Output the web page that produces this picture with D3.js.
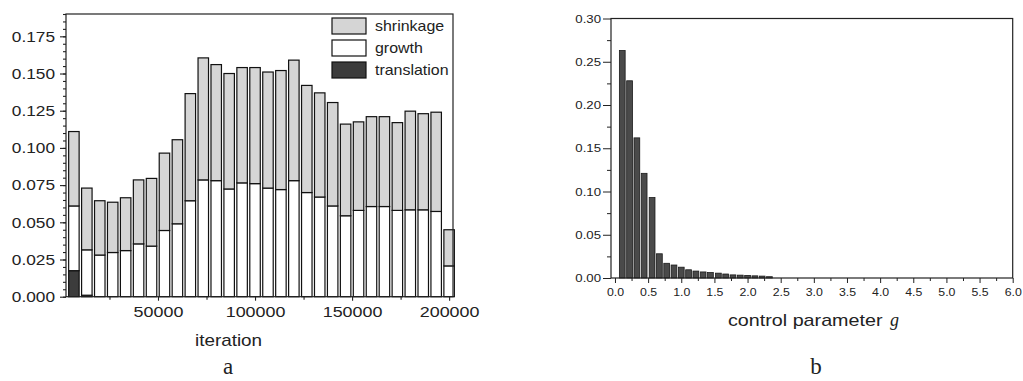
<!DOCTYPE html>
<html>
<head>
<meta charset="utf-8">
<script src="https://cdn.jsdelivr.net/npm/d3@7"></script>
<style>
  body { margin: 0; background: #fff; }
  svg { display: block; font-family: "Liberation Sans", Arial, sans-serif; }
</style>
</head>
<body>
<div id="wrapper"></div>
<script>
/* global d3 */

// panel a data
const iterations = [6667, 13333, 20000, 26667, 33333, 40000, 46667, 53333, 60000, 66667,
  73333, 80000, 86667, 93333, 100000, 106667, 113333, 120000, 126667, 133333,
  140000, 146667, 153333, 160000, 166667, 173333, 180000, 186667, 193333, 200000]
const translation = [0.0175, 0.001, 0, 0, 0, 0, 0, 0, 0, 0,
  0, 0, 0, 0, 0, 0, 0, 0, 0, 0,
  0, 0, 0, 0, 0, 0, 0, 0, 0, 0]
const growth = [0.0435, 0.0305, 0.028, 0.0297, 0.031, 0.0355, 0.034, 0.0445, 0.049, 0.0645,
  0.0785, 0.078, 0.0724, 0.0765, 0.076, 0.073, 0.072, 0.078, 0.070, 0.067,
  0.061, 0.0544, 0.058, 0.0606, 0.0606, 0.058, 0.0584, 0.0584, 0.0573, 0.0207]
const shrinkage = [0.050, 0.0415, 0.0365, 0.0338, 0.0355, 0.043, 0.0455, 0.052, 0.0565, 0.072,
  0.082, 0.078, 0.0776, 0.0775, 0.078, 0.078, 0.080, 0.081, 0.072, 0.070,
  0.0695, 0.0616, 0.0595, 0.0604, 0.0604, 0.059, 0.0663, 0.0646, 0.0667, 0.0243]
const stackKeys = ["translation", "growth", "shrinkage"]
const legendLabels = ["shrinkage", "growth", "translation"]
const yTicksA = [0, 0.025, 0.05, 0.075, 0.1, 0.125, 0.15, 0.175]
const xTicksA = [50000, 100000, 150000, 200000]

// panel b data
const gValues = [0.11, 0.22, 0.33, 0.44, 0.56, 0.67, 0.78, 0.89, 1.0, 1.11, 1.22, 1.33,
  1.44, 1.56, 1.67, 1.78, 1.89, 2.0, 2.11, 2.22, 2.33]
const gFrequency = [0.263, 0.228, 0.162, 0.121, 0.093, 0.028, 0.017, 0.015, 0.0125, 0.0095, 0.008, 0.007,
  0.0063, 0.0056, 0.0046, 0.0036, 0.0033, 0.003, 0.0025, 0.0022, 0.0015]
const yTicksB = [0, 0.05, 0.1, 0.15, 0.2, 0.25, 0.3]
const xTicksB = [0, 0.5, 1, 1.5, 2, 2.5, 3, 3.5, 4, 4.5, 5, 5.5, 6]

const ink = "#222"
const colors = { translation: "#3c3c3c", growth: "#ffffff", shrinkage: "#d5d5d5" }

const svg = d3.select("#wrapper")
  .append("svg")
    .attr("width", 1023)
    .attr("height", 381)

// stretch axis labels sideways, like the scanned figure
function stretchTicks(axisG, sx) {
  axisG.selectAll("text").each(function() {
    const t = d3.select(this)
    const x = +t.attr("x") || 0
    t.attr("x", x / sx).attr("transform", `scale(${sx},1)`)
  })
}

function stretchedText(g, x, y, str, size, sx, anchor) {
  return g.append("text")
    .attr("transform", `translate(${x},${y}) scale(${sx},1)`)
    .attr("text-anchor", anchor || "middle")
    .attr("fill", ink)
    .style("font-size", size + "px")
    .text(str)
}

// ---------- panel a ----------
const a = { left: 66, right: 453, top: 14, bottom: 296.7 }

const xA = d3.scaleLinear()
  .domain([2600, 202000])
  .range([a.left, a.right])
const yA = d3.scaleLinear()
  .domain([0, 0.19])
  .range([a.bottom, a.top])

const rows = iterations.map((it, i) => ({
  iteration: it,
  translation: translation[i],
  growth: growth[i],
  shrinkage: shrinkage[i],
}))
const stacked = d3.stack().keys(stackKeys)(rows)
const barW = xA(5400) - xA(0)

const gA = svg.append("g")
stacked.forEach(layer => {
  gA.append("g")
    .selectAll("rect")
    .data(layer.filter(d => d[1] - d[0] > 0))
    .join("rect")
      .attr("x", d => xA(d.data.iteration) - barW / 2)
      .attr("width", barW)
      .attr("y", d => yA(d[1]))
      .attr("height", d => yA(d[0]) - yA(d[1]))
      .attr("fill", colors[layer.key])
      .attr("stroke", "#111")
      .attr("stroke-width", 1.2)
})

gA.append("rect")
  .attr("x", a.left).attr("y", a.top)
  .attr("width", a.right - a.left).attr("height", a.bottom - a.top)
  .attr("fill", "none").attr("stroke", ink).attr("stroke-width", 1.2)

// y axis
const yAxisA = gA.append("g")
  .attr("transform", `translate(${a.left},0)`)
  .call(d3.axisLeft(yA).tickValues(yTicksA).tickFormat(d3.format(".3f"))
    .tickSize(6).tickPadding(5))
  .style("font-size", "15px")
yAxisA.select(".domain").remove()
stretchTicks(yAxisA, 1.15)
gA.append("g")
  .attr("transform", `translate(${a.left},0)`)
  .call(d3.axisLeft(yA).tickValues(d3.range(0, 0.1901, 0.005)).tickFormat("").tickSize(3))
  .select(".domain").remove()

// x axis
const xAxisA = gA.append("g")
  .attr("transform", `translate(0,${a.bottom})`)
  .call(d3.axisBottom(xA).tickValues(xTicksA).tickFormat(d3.format("d"))
    .tickSize(4).tickPadding(6.5))
  .style("font-size", "14px")
xAxisA.select(".domain").remove()
stretchTicks(xAxisA, 1.28)
gA.append("g")
  .attr("transform", `translate(0,${a.bottom})`)
  .call(d3.axisBottom(xA).tickValues([25000, 75000, 125000, 175000]).tickFormat("").tickSize(3))
  .select(".domain").remove()

gA.selectAll(".tick line").attr("stroke", ink).attr("stroke-width", 1.1)
gA.selectAll(".tick text").attr("fill", ink)

// legend
const legend = gA.append("g")
legendLabels.forEach((name, i) => {
  const y = 18 + i * 22
  legend.append("rect")
    .attr("x", 332).attr("y", y)
    .attr("width", 34).attr("height", 16)
    .attr("fill", colors[name])
    .attr("stroke", "#111").attr("stroke-width", 1.2)
  stretchedText(legend, 375, y + 13, name, 14, 1.14, "start")
})

stretchedText(gA, 228.5, 346, "iteration", 16, 1.18)
gA.append("text")
  .attr("x", 228).attr("y", 374)
  .attr("text-anchor", "middle")
  .style("font-family", "'Liberation Serif', 'Times New Roman', serif")
  .style("font-size", "23px")
  .attr("fill", ink)
  .text("a")

// ---------- panel b ----------
const b = { left: 611, right: 1012.7, top: 18.5, bottom: 278 }

const xB = d3.scaleLinear()
  .domain([-0.06, 6.0])
  .range([b.left, b.right])
const yB = d3.scaleLinear()
  .domain([0, 0.30])
  .range([b.bottom, b.top])

const gB = svg.append("g")
const barWB = xB(0.087) - xB(0)

gB.append("g")
  .selectAll("rect")
  .data(gValues.map((g, i) => ({ g, f: gFrequency[i] })))
  .join("rect")
    .attr("x", d => xB(d.g) - barWB / 2)
    .attr("width", barWB)
    .attr("y", d => yB(d.f))
    .attr("height", d => yB(0) - yB(d.f))
    .attr("fill", "#4a4a4a")
    .attr("stroke", "#1a1a1a")
    .attr("stroke-width", 0.8)

gB.append("rect")
  .attr("x", b.left).attr("y", b.top)
  .attr("width", b.right - b.left).attr("height", b.bottom - b.top)
  .attr("fill", "none").attr("stroke", ink).attr("stroke-width", 1.2)

const yAxisB = gB.append("g")
  .attr("transform", `translate(${b.left},0)`)
  .call(d3.axisLeft(yB).tickValues(yTicksB).tickFormat(d3.format(".2f"))
    .tickSize(8).tickPadding(2))
  .style("font-size", "11px")
yAxisB.select(".domain").remove()
stretchTicks(yAxisB, 1.2)
gB.append("g")
  .attr("transform", `translate(${b.left},0)`)
  .call(d3.axisLeft(yB).tickValues(d3.range(0.025, 0.3, 0.05)).tickFormat("").tickSize(4))
  .select(".domain").remove()

const xAxisB = gB.append("g")
  .attr("transform", `translate(0,${b.bottom})`)
  .call(d3.axisBottom(xB).tickValues(xTicksB).tickFormat(d3.format(".1f"))
    .tickSize(5).tickPadding(5))
  .style("font-size", "11px")
xAxisB.select(".domain").remove()
stretchTicks(xAxisB, 1.12)
gB.append("g")
  .attr("transform", `translate(0,${b.bottom})`)
  .call(d3.axisBottom(xB).tickValues(d3.range(0.25, 6, 0.5)).tickFormat("").tickSize(3))
  .select(".domain").remove()

gB.selectAll(".tick line").attr("stroke", ink).attr("stroke-width", 1)
gB.selectAll(".tick text").attr("fill", ink)

stretchedText(gB, 728, 326, "control parameter", 17, 1.16, "start")
gB.append("text")
  .attr("x", 890).attr("y", 326)
  .style("font-family", "'Liberation Serif', 'Times New Roman', serif")
  .style("font-style", "italic")
  .style("font-size", "18px")
  .attr("fill", ink)
  .text("g")
gB.append("text")
  .attr("x", 816).attr("y", 374)
  .attr("text-anchor", "middle")
  .style("font-family", "'Liberation Serif', 'Times New Roman', serif")
  .style("font-size", "23px")
  .attr("fill", ink)
  .text("b")
</script>
</body>
</html>
